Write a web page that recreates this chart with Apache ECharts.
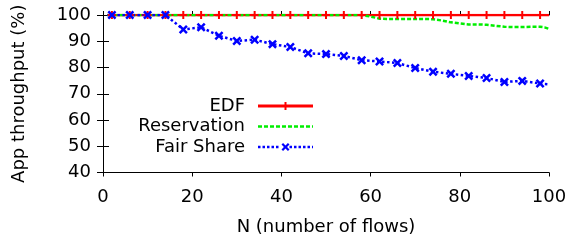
<!DOCTYPE html>
<html>
<head>
<meta charset="utf-8">
<script src="https://cdn.jsdelivr.net/npm/echarts@6/dist/echarts.min.js"></script>
<style>
  html, body { margin: 0; padding: 0; background: #fff; }
  #chart { width: 571px; height: 242px; }
</style>
</head>
<body>
<div id="chart"></div>
<script>
// number of flows (x) and throughput (%)
const edfFlows = [1, 2, 6, 10, 14, 18, 22, 26, 30, 34, 38, 42, 46, 50, 54, 58, 62, 66, 70, 74, 78, 82, 86, 90, 94, 98, 100]
const edfValues = [100, 100, 100, 100, 100, 100, 100, 100, 100, 100, 100, 100, 100, 100, 100, 100, 100, 100, 100, 100, 100, 100, 100, 100, 100, 100, 100]

const resFlows = [1, 58, 60, 62, 64, 68, 72, 74, 76, 78, 80, 82, 84, 86, 88, 90, 92, 94, 96, 98, 99, 100]
const resValues = [100, 100, 99.4, 98.6, 98.5, 98.5, 98.5, 98.4, 97.9, 97.2, 96.8, 96.4, 96.4, 96.3, 95.9, 95.5, 95.4, 95.4, 95.5, 95.5, 95.3, 94.7]

const fairFlows = [1, 2, 6, 10, 14, 18, 22, 26, 30, 34, 38, 42, 46, 50, 54, 58, 62, 66, 70, 74, 78, 82, 86, 90, 94, 98, 100]
const fairValues = [100, 100, 100, 100, 100, 94.5, 95.3, 92.1, 90.1, 90.6, 88.9, 87.8, 85.4, 85.1, 84.4, 82.8, 82.3, 81.7, 79.8, 78.4, 77.6, 76.8, 76.0, 74.5, 74.9, 73.9, 73.6]

const xTicks = { min: 0, max: 100, interval: 20 }
const yTicks = { min: 40, max: 100, interval: 10 }

const FONT = 'DejaVu Sans'
const FS = 18

// marker shapes (gnuplot-like "+" and "x")
const plusPath = 'path://M-0.25,-1L0.25,-1L0.25,-0.25L1,-0.25L1,0.25L0.25,0.25L0.25,1L-0.25,1L-0.25,0.25L-1,0.25L-1,-0.25L-0.25,-0.25Z'
const crossPts = [[-1.4, -0.85], [-0.85, -1.4], [0, -0.55], [0.85, -1.4], [1.4, -0.85], [0.55, 0], [1.4, 0.85], [0.85, 1.4], [0, 0.55], [-0.85, 1.4], [-1.4, 0.85], [-0.55, 0]]
const crossPath = 'path://' + crossPts.map((p, i) => (i ? 'L' : 'M') + p[0] + ',' + p[1]).join('') + 'Z'

// legend icons: line sample with the marker in the middle
const W = 55
const edfIcon = 'path://M0,2.5H55V5.5H0Z M26.5,0H28.5V8H26.5Z'
let resIcon = 'path://'
for (let x = 0; x < W; x += 6) {
  const w = Math.min(4, W - x)
  resIcon += 'M' + x + ',0H' + (x + w) + 'V2.6H' + x + 'Z'
}
let fairIcon = 'path://'
for (let x = 0; x < W; x += 4.5) {
  if (x > 21 && x < 31) continue
  const w = Math.min(2.5, W - x)
  fairIcon += 'M' + x + ',2.75H' + (x + w) + 'V5.25H' + x + 'Z'
}
const s = 8 / 2.8
fairIcon += 'M' + crossPts.map(p => (27.5 + p[0] * s).toFixed(2) + ',' + (4 + p[1] * s).toFixed(2)).join('L') + 'Z'

const pairs = (xs, ys) => xs.map((x, i) => [x, ys[i]])
const isMarker = v => v[0] % 4 === 2

const axisLine = { show: true, lineStyle: { color: '#000', width: 1 } }
const legendBase = {
  orient: 'horizontal',
  align: 'right',
  right: 258,
  itemWidth: W,
  itemHeight: 20,
  padding: 0,
  selectedMode: false,
  textStyle: { fontFamily: FONT, fontSize: FS, color: '#000', padding: [0, 8, 0, 0] }
}

const chart = echarts.init(document.getElementById('chart'))
chart.setOption({
  animation: false,
  grid: { left: 103, right: 22, top: 15, bottom: 69.5, outerBoundsMode: 'none' },
  legend: [
    Object.assign({}, legendBase, { top: 97, data: [{ name: 'EDF', icon: edfIcon }] }),
    Object.assign({}, legendBase, { top: 117.5, data: [{ name: 'Reservation', icon: resIcon }] }),
    Object.assign({}, legendBase, { top: 138, data: [{ name: 'Fair Share', icon: fairIcon }] })
  ],
  xAxis: [
    {
      type: 'value', position: 'bottom', ...xTicks,
      name: 'N (number of flows)', nameLocation: 'middle', nameGap: 46,
      nameTextStyle: { fontFamily: FONT, fontSize: FS, color: '#000' },
      axisLine,
      axisTick: { inside: false, length: 4, lineStyle: { color: '#000' } },
      axisLabel: { margin: 16, fontFamily: FONT, fontSize: FS, color: '#000' },
      splitLine: { show: false }
    },
    {
      type: 'value', position: 'top', ...xTicks,
      axisLine,
      axisTick: { inside: false, length: 4, lineStyle: { color: '#000' } },
      axisLabel: { show: false },
      splitLine: { show: false }
    }
  ],
  yAxis: [
    {
      type: 'value', position: 'left', ...yTicks,
      name: 'App throughput (%)', nameLocation: 'middle', nameGap: 75,
      nameTextStyle: { fontFamily: FONT, fontSize: FS, color: '#000' },
      axisLine,
      axisTick: { inside: true, length: 6, lineStyle: { color: '#000' } },
      axisLabel: { margin: 12, fontFamily: FONT, fontSize: FS, color: '#000' },
      splitLine: { show: false }
    },
    {
      type: 'value', position: 'right', ...yTicks,
      axisLine,
      axisTick: { inside: true, length: 6, lineStyle: { color: '#000' } },
      axisLabel: { show: false },
      splitLine: { show: false }
    }
  ],
  series: [
    {
      name: 'EDF', type: 'line',
      data: pairs(edfFlows, edfValues),
      color: '#ff0000',
      lineStyle: { width: 2.5, color: '#ff0000' },
      symbol: plusPath,
      symbolSize: v => (isMarker(v) ? 8 : 0),
      itemStyle: { color: '#ff0000' }
    },
    {
      name: 'Reservation', type: 'line',
      data: pairs(resFlows, resValues),
      color: '#00ee00',
      lineStyle: { width: 2.5, color: '#00ee00', type: [4, 2] },
      symbol: 'none'
    },
    {
      name: 'Fair Share', type: 'line',
      data: pairs(fairFlows, fairValues),
      color: '#0000ff',
      lineStyle: { width: 2.5, color: '#0000ff', type: [2.5, 2.5] },
      symbol: crossPath,
      symbolSize: v => (isMarker(v) ? 9 : 0),
      itemStyle: { color: '#0000ff' }
    }
  ]
})
</script>
</body>
</html>
